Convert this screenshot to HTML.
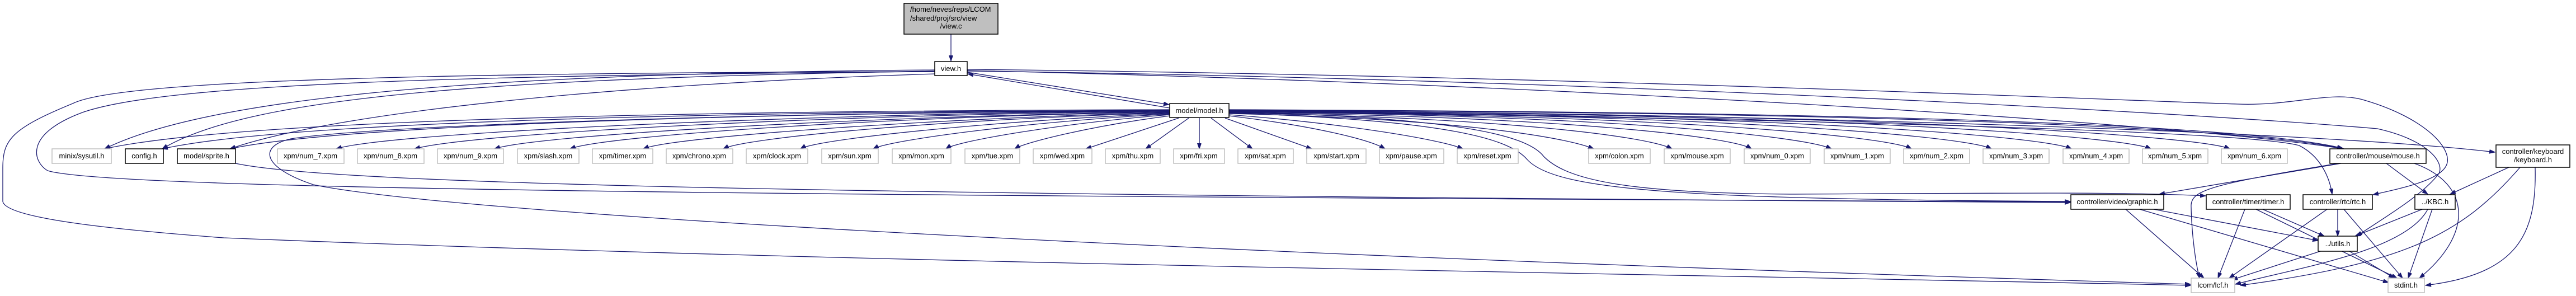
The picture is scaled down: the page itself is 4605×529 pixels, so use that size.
<!DOCTYPE html>
<html><head><meta charset="utf-8"><style>
html,body{margin:0;padding:0;background:#fff;}
svg{display:block;}
text{font-family:"Liberation Sans",Helvetica,sans-serif;font-size:13px;fill:#000;}
.e{fill:none;stroke:#191970;stroke-width:1.3;}
.g{fill:#fff;stroke:#bfbfbf;stroke-width:1.5;}
.b{fill:#fff;stroke:#000;stroke-width:1.5;}
</style></head><body>
<svg width="4605" height="529" viewBox="0 0 4605 529" xmlns="http://www.w3.org/2000/svg">
<defs><marker id="a" markerUnits="userSpaceOnUse" markerWidth="11" markerHeight="8" refX="10" refY="3.5" orient="auto"><path d="M0,0 L10,3.5 L0,7 z" fill="#191970" stroke="#191970"/></marker></defs>
<g class="e" marker-end="url(#a)">
<!-- root -> view -->
<path d="M1700 61 L1700 109"/>
<!-- view <-> model -->
<path d="M1729 129 L2090 187"/>
<path d="M2091 193 L1730 132"/>
<!-- view -> left -->
<path d="M1671 125 C1000 130,400 160,187 266"/>
<path d="M1671 127 C900 140,450 170,290 266"/>
<path d="M1671 132 C1100 150,600 200,411 266"/>
<path d="M1671 128 C800 135,300 150,150 200 C40 240,60 290,85 305 C200 340,1500 350,3701 361"/>
<path d="M1671 128 C600 130,200 150,130 185 C20 230,5 250,5 300 L5 360 C10 390,200 410,400 425 C1500 470,3000 490,3916 510"/>
<!-- view -> right -->
<path d="M1729 124 C2800 135,3800 180,4000 186 C4100 190,4170 160,4230 180 C4330 210,4380 260,4375 290 C4370 320,4300 335,4242 348"/>
<path d="M1729 127 C2800 140,3900 200,4250 230 C4340 250,4370 290,4360 310 C4330 350,4260 390,4213 422"/>
<path d="M1729 126 C2800 150,3900 220,4190 266"/>
<!-- model -> left xpm -->
<path d="M2091 196 C1200 198,420 215,187 266"/>
<path d="M2091 197 C1200 200,500 220,290 266"/>
<path d="M2091 198 C1300 202,600 225,411 266"/>
<path d="M2091 198 C1500 202,700 235,601 266"/>
<path d="M2091 199 C1500 204,840 238,741 266"/>
<path d="M2091 200 C1600 206,960 240,884 266"/>
<path d="M2091 200 C1600 208,1080 242,1019 266"/>
<path d="M2091 201 C1700 210,1200 244,1150 266"/>
<path d="M2091 202 C1700 212,1330 246,1293 266"/>
<path d="M2091 203 C1800 214,1460 248,1431 266"/>
<path d="M2091 204 C1850 216,1590 250,1561 266"/>
<path d="M2091 205 C1900 220,1710 252,1691 266"/>
<path d="M2091 207 C1950 225,1830 255,1814 266"/>
<path d="M2107 211 L1941 266"/>
<path d="M2125 211 L2048 266"/>
<path d="M2144 211 L2144 266"/>
<path d="M2165 211 L2239 266"/>
<!-- model -> lcf loop -->
<path d="M2091 197 C1500 200,700 220,520 248 C460 262,470 300,560 330 C800 380,2000 450,3916 508"/>
<!-- model -> right xpm -->
<path d="M2190 211 L2345 266"/>
<path d="M2197 207 C2350 225,2450 250,2476 266"/>
<path d="M2197 205 C2400 220,2580 250,2615 266"/>
<path d="M2197 203 C2600 212,2800 245,2849 266"/>
<path d="M2197 202 C2700 210,2950 245,2989 266"/>
<path d="M2197 201 C2800 208,3100 245,3131 266"/>
<path d="M2197 200 C2900 206,3230 245,3274 266"/>
<path d="M2197 200 C3000 205,3380 245,3417 266"/>
<path d="M2197 199 C3100 204,3520 245,3560 266"/>
<path d="M2197 199 C3200 203,3660 245,3703 266"/>
<path d="M2197 198 C3300 202,3800 245,3845 266"/>
<path d="M2197 198 C3400 202,3940 245,3986 266"/>
<!-- model -> controllers -->
<path d="M2197 197 C3300 200,4000 225,4190 266"/>
<path d="M2197 196 C3300 200,4000 220,4188 265"/>
<path d="M2197 197 C3300 205,4200 240,4460 272"/>
<path d="M2197 198 C3000 210,4000 230,4110 260 C4150 280,4165 320,4169 347"/>
<path d="M2197 200 C2600 210,2730 240,2760 280 C2800 320,2900 345,3200 347 C3600 345,3800 343,3943 350"/>
<path d="M2197 202 C2600 215,2700 250,2730 285 C2780 340,3000 356,3701 360"/>
<!-- sprite -> graphic -->
<path d="M421 292 C600 330,1500 348,3701 362"/>
<!-- mouse -->
<path d="M4185 292 L3860 347"/>
<path d="M4180 292 C3950 330,3915 340,3917 370 C3918 420,3925 470,3932 497"/>
<path d="M4266 292 L4340 347"/>
<path d="M4316 292 C4420 330,4420 420,4325 497"/>
<!-- keyboard -->
<path d="M4485 299 L4380 347"/>
<path d="M4505 299 C4400 420,4300 470,4005 510"/>
<path d="M4532 299 C4535 420,4500 490,4336 510"/>
<!-- graphic -->
<path d="M3800 374 L3940 497"/>
<path d="M3825 374 L4270 505"/>
<path d="M3850 374 L4144 430"/>
<!-- timer -->
<path d="M4013 374 L3965 497"/>
<path d="M4033 374 L4285 497"/>
<path d="M4045 374 L4155 422"/>
<!-- rtc -->
<path d="M4160 374 L3985 497"/>
<path d="M4179 374 L4179 422"/>
<path d="M4190 374 L4295 497"/>
<!-- KBC -->
<path d="M4330 374 L4210 422"/>
<path d="M4340 374 C4300 450,4100 480,3996 508"/>
<path d="M4348 374 L4305 497"/>
<!-- utils -->
<path d="M4148 449 L3990 500"/>
<path d="M4200 449 L4280 497"/>
</g>
<!-- nodes -->
<rect x="1616" y="6" width="168" height="55" fill="#bfbfbf" stroke="#000" stroke-width="1.5"/>
<text x="1627" y="21">/home/neves/reps/LCOM</text>
<text x="1627" y="37">/shared/proj/src/view</text>
<text x="1700" y="51" text-anchor="middle">/view.c</text>
<rect class="b" x="1671" y="110" width="58" height="25"/><text x="1700" y="127" text-anchor="middle">view.h</text>
<rect class="b" x="2091" y="185" width="106" height="25"/><text x="2144" y="202" text-anchor="middle">model/model.h</text>
<g text-anchor="middle">
<rect class="g" x="93" y="266" width="106" height="26"/><text x="146" y="283">minix/sysutil.h</text>
<rect class="b" x="224" y="266" width="68" height="26"/><text x="258" y="283">config.h</text>
<rect class="b" x="317" y="266" width="104" height="26"/><text x="369" y="283">model/sprite.h</text>
<rect class="g" x="496" y="266" width="119" height="26"/><text x="555" y="283">xpm/num_7.xpm</text>
<rect class="g" x="639" y="266" width="119" height="26"/><text x="698" y="283">xpm/num_8.xpm</text>
<rect class="g" x="782" y="266" width="118" height="26"/><text x="841" y="283">xpm/num_9.xpm</text>
<rect class="g" x="925" y="266" width="110" height="26"/><text x="980" y="283">xpm/slash.xpm</text>
<rect class="g" x="1059" y="266" width="108" height="26"/><text x="1113" y="283">xpm/timer.xpm</text>
<rect class="g" x="1191" y="266" width="119" height="26"/><text x="1250" y="283">xpm/chrono.xpm</text>
<rect class="g" x="1334" y="266" width="110" height="26"/><text x="1389" y="283">xpm/clock.xpm</text>
<rect class="g" x="1469" y="266" width="101" height="26"/><text x="1519" y="283">xpm/sun.xpm</text>
<rect class="g" x="1595" y="266" width="105" height="26"/><text x="1647" y="283">xpm/mon.xpm</text>
<rect class="g" x="1725" y="266" width="98" height="26"/><text x="1774" y="283">xpm/tue.xpm</text>
<rect class="g" x="1847" y="266" width="105" height="26"/><text x="1899" y="283">xpm/wed.xpm</text>
<rect class="g" x="1976" y="266" width="98" height="26"/><text x="2025" y="283">xpm/thu.xpm</text>
<rect class="g" x="2098" y="266" width="91" height="26"/><text x="2143" y="283">xpm/fri.xpm</text>
<rect class="g" x="2213" y="266" width="99" height="26"/><text x="2262" y="283">xpm/sat.xpm</text>
<rect class="g" x="2336" y="266" width="106" height="26"/><text x="2389" y="283">xpm/start.xpm</text>
<rect class="g" x="2466" y="266" width="115" height="26"/><text x="2523" y="283">xpm/pause.xpm</text>
<rect class="g" x="2605" y="266" width="109" height="26"/><text x="2659" y="283">xpm/reset.xpm</text>
<rect class="g" x="2840" y="266" width="110" height="26"/><text x="2895" y="283">xpm/colon.xpm</text>
<rect class="g" x="2975" y="266" width="118" height="26"/><text x="3034" y="283">xpm/mouse.xpm</text>
<rect class="g" x="3118" y="266" width="118" height="26"/><text x="3177" y="283">xpm/num_0.xpm</text>
<rect class="g" x="3261" y="266" width="118" height="26"/><text x="3320" y="283">xpm/num_1.xpm</text>
<rect class="g" x="3403" y="266" width="118" height="26"/><text x="3462" y="283">xpm/num_2.xpm</text>
<rect class="g" x="3545" y="266" width="118" height="26"/><text x="3604" y="283">xpm/num_3.xpm</text>
<rect class="g" x="3688" y="266" width="118" height="26"/><text x="3747" y="283">xpm/num_4.xpm</text>
<rect class="g" x="3830" y="266" width="117" height="26"/><text x="3888" y="283">xpm/num_5.xpm</text>
<rect class="g" x="3971" y="266" width="118" height="26"/><text x="4030" y="283">xpm/num_6.xpm</text>
<rect class="b" x="4165" y="266" width="172" height="26"/><text x="4251" y="283">controller/mouse/mouse.h</text>
<rect class="b" x="4462" y="259" width="132" height="40"/><text x="4528" y="275">controller/keyboard</text><text x="4528" y="290">/keyboard.h</text>
<rect class="b" x="3702" y="348" width="166" height="26"/><text x="3785" y="365">controller/video/graphic.h</text>
<rect class="b" x="3944" y="348" width="150" height="26"/><text x="4019" y="365">controller/timer/timer.h</text>
<rect class="b" x="4117" y="348" width="124" height="26"/><text x="4179" y="365">controller/rtc/rtc.h</text>
<rect class="b" x="4317" y="348" width="72" height="26"/><text x="4353" y="365">../KBC.h</text>
<rect class="b" x="4144" y="422" width="70" height="27"/><text x="4179" y="440">../utils.h</text>
<rect class="g" x="3917" y="497" width="78" height="26"/><text x="3956" y="514">lcom/lcf.h</text>
<rect class="g" x="4269" y="497" width="65" height="26"/><text x="4301" y="514">stdint.h</text>
</g>
</svg>
</body></html>
